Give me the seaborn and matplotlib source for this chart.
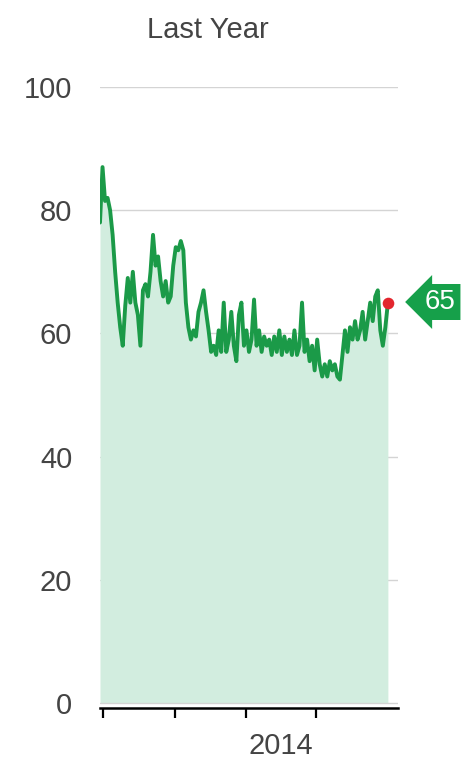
import numpy as np
import pandas as pd
import matplotlib
matplotlib.use("Agg")
import matplotlib.pyplot as plt
import seaborn as sns

# ---- data ----
values = [78, 87, 81.5, 82, 80, 76, 70, 65, 61, 58, 64.5, 69, 65, 70, 65, 63, 58, 67, 68, 66,
          70, 76, 71, 72.5, 68.5, 66, 68.5, 65, 66, 71, 74, 73.5, 75, 73.5, 65, 61, 59, 60.5,
          59.5, 63.5, 65, 67, 63.5, 60.5, 57, 58, 56.5, 60.5, 57, 65, 57, 59, 63.5, 58, 55.5,
          63, 65, 58, 60.5, 57, 59, 65.5, 58, 60.5, 57, 59.5, 58, 59, 56.5, 59.5, 57, 60.5,
          56.5, 59.5, 57, 59, 56.5, 60.5, 56.5, 58, 65, 57, 59, 55.5, 58, 54, 59, 55, 53, 55,
          53, 55.5, 54, 55, 53, 52.5, 56.5, 60.5, 57, 61, 59, 62, 59, 60.5, 63.5, 59, 62, 65,
          62, 66, 67, 60.5, 58, 61, 65]
start_date = "2013-06-27"
end_date = "2014-07-02"
dates = pd.date_range(start_date, end_date, periods=len(values))
df = pd.DataFrame({"date": dates, "value": values})

y_ticks = [0, 20, 40, 60, 80, 100]
x_tick_dates = ["2013-07-01", "2013-10-01", "2014-01-01", "2014-04-01"]
year_label = "2014"
year_label_date = "2014-02-15"
title = "Last Year"
last_label = "65"

# ---- style ----
sns.set_style("white")
plt.rcParams["font.family"] = ["Liberation Sans", "DejaVu Sans"]

line_col = "#1b9a48"
fill_col = "#d2eddf"
text_col = "#444444"

fig = plt.figure(figsize=(4.71, 7.64), dpi=100)
ax = fig.add_axes([100/471, 1 - 708/764, 298/471, (708 - 87)/764])

ax.fill_between(df["date"], 0, df["value"], color=fill_col, lw=0, zorder=1)
sns.lineplot(data=df, x="date", y="value", ax=ax, color=line_col, lw=2.8, zorder=3)

# grid lines
for yv in y_ticks:
    ax.axhline(yv, color="#d4d4d4", lw=1.0, zorder=0.5 if yv > 0 else 2)

# end marker
ax.scatter([df["date"].iloc[-1]], [df["value"].iloc[-1]], s=70, color="#e3262e", zorder=5, lw=0)

ax.set_ylim(-0.8, 100)
ax.set_xlim(pd.Timestamp(start_date), pd.Timestamp("2014-07-15"))

ax.set_yticks(y_ticks)
ax.set_yticklabels([str(v) for v in y_ticks], fontsize=21, color=text_col)
ax.tick_params(axis="y", length=0, pad=20, left=False)

ax.set_xticks([pd.Timestamp(d) for d in x_tick_dates])
ax.set_xticklabels([])
ax.set_xticks([pd.Timestamp(year_label_date)], minor=True)
ax.set_xticklabels([year_label], minor=True, fontsize=21, color=text_col)
ax.tick_params(axis="x", which="major", bottom=True, length=7, width=1.6,
               color="black", direction="out")
ax.tick_params(axis="x", which="minor", bottom=True, length=0, pad=17)

for s in ["top", "right", "left"]:
    ax.spines[s].set_visible(False)
ax.spines["bottom"].set_color("black")
ax.spines["bottom"].set_linewidth(1.8)
ax.set_xlabel("")
ax.set_ylabel("")

fig.text(208/471, 1 - 30/764, title, ha="center", va="center", fontsize=21, color=text_col)

# last value tag
ax.annotate(last_label, xy=(df["date"].iloc[-1], df["value"].iloc[-1]),
            xytext=(440/471, 1 - 302/764), textcoords="figure fraction",
            ha="center", va="center", fontsize=20, color="white",
            bbox=dict(boxstyle="larrow,pad=0.18", fc="#16a04a", ec="none"))

fig.savefig("out.png", dpi=100)
